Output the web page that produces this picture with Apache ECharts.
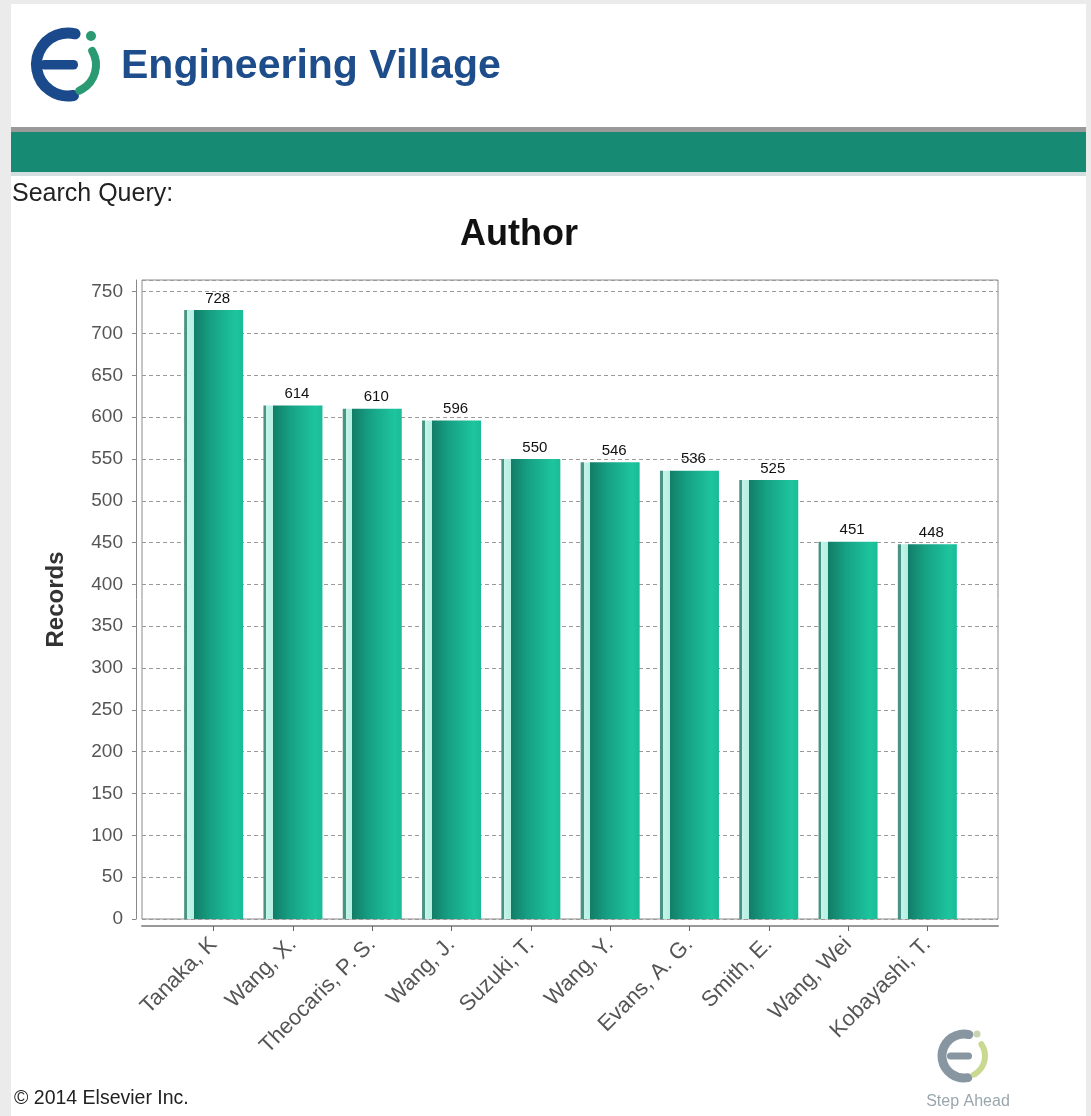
<!DOCTYPE html>
<html>
<head>
<meta charset="utf-8">
<script src="https://cdn.jsdelivr.net/npm/echarts@6/dist/echarts.min.js"></script>
<style>
html,body{margin:0;padding:0;background:#ebebeb;}
#chart{width:1091px;height:1116px;}
</style>
</head>
<body>
<div id="chart"></div>
<script>
const categories = ['Tanaka, K', 'Wang, X.', 'Theocaris, P. S.', 'Wang, J.', 'Suzuki, T.', 'Wang, Y.', 'Evans, A. G.', 'Smith, E.', 'Wang, Wei', 'Kobayashi, T.'];
const records = [728, 614, 610, 596, 550, 546, 536, 525, 451, 448];
const yMin = 0;
const yMax = 764;
const yInterval = 50;
const chartTitle = 'Author';
const yName = 'Records';

const FONT = 'Liberation Sans, Arial, sans-serif';
const deg = Math.PI / 180;

const barGradient = {
  type: 'linear', x: 0, y: 0, x2: 1, y2: 0,
  colorStops: [
    { offset: 0, color: '#4a9385' },
    { offset: 0.05, color: '#4a9385' },
    { offset: 0.05, color: '#c4f4e9' },
    { offset: 0.165, color: '#b6efe2' },
    { offset: 0.165, color: '#127d67' },
    { offset: 0.45, color: '#16a084' },
    { offset: 0.88, color: '#1dc59e' },
    { offset: 1, color: '#1abb96' }
  ]
};

const chart = echarts.init(document.getElementById('chart'), null, { renderer: 'canvas' });

const option = {
  backgroundColor: '#ebebeb',
  animation: false,
  title: {
    text: chartTitle,
    left: 514, top: 212, textAlign: 'center',
    textStyle: { fontFamily: FONT, fontSize: 36, fontWeight: 'bold', color: '#111' }
  },
  graphic: [
    { type: 'rect', z: -10, shape: { x: 11, y: 4, width: 1075, height: 1112 }, style: { fill: '#ffffff' } },
    { type: 'rect', z: -9, shape: { x: 11, y: 127, width: 1075, height: 5 }, style: { fill: '#9a9a9a' } },
    { type: 'rect', z: -9, shape: { x: 11, y: 132, width: 1075, height: 40 }, style: { fill: '#178a73' } },
    { type: 'rect', z: -9, shape: { x: 11, y: 172, width: 1075, height: 4 }, style: { fill: '#d3dfdf' } },
    // header logo
    { type: 'arc', shape: { cx: 68, cy: 64.5, r: 31.5, startAngle: 80 * deg, endAngle: 283 * deg, clockwise: true },
      style: { stroke: '#1b4a8c', lineWidth: 11, fill: null, lineCap: 'round' } },
    { type: 'rect', shape: { x: 40, y: 60, width: 38, height: 9.5, r: 4.5 }, style: { fill: '#1b4a8c' } },
    { type: 'arc', shape: { cx: 68, cy: 65, r: 28, startAngle: -30 * deg, endAngle: 66 * deg, clockwise: true },
      style: { stroke: '#2a9a72', lineWidth: 8, fill: null, lineCap: 'round' } },
    { type: 'circle', shape: { cx: 91, cy: 36, r: 5 }, style: { fill: '#2a9a72' } },
    { type: 'text', x: 121, y: 67, style: { text: 'Engineering Village', font: 'bold 41px ' + FONT, fill: '#1e4d8b', verticalAlign: 'middle' } },
    { type: 'text', x: 12, y: 194, style: { text: 'Search Query:', font: '25px ' + FONT, fill: '#222', verticalAlign: 'middle' } },
    { type: 'text', x: 14, y: 1099, style: { text: '\u00a9 2014 Elsevier Inc.', font: '19.5px ' + FONT, fill: '#222', verticalAlign: 'middle' } },
    // footer logo
    { type: 'arc', shape: { cx: 964, cy: 1056, r: 22, startAngle: 80 * deg, endAngle: 283 * deg, clockwise: true },
      style: { stroke: '#8796a0', lineWidth: 9, fill: null, lineCap: 'round' } },
    { type: 'rect', shape: { x: 947, y: 1052.5, width: 25, height: 7, r: 3.5 }, style: { fill: '#8796a0' } },
    { type: 'arc', shape: { cx: 964, cy: 1056, r: 21, startAngle: -34 * deg, endAngle: 62 * deg, clockwise: true },
      style: { stroke: '#c9d98f', lineWidth: 6, fill: null, lineCap: 'round' } },
    { type: 'circle', shape: { cx: 977, cy: 1034, r: 3.5 }, style: { fill: '#c9d3b0' } },
    { type: 'text', x: 968, y: 1102, style: { text: 'Step Ahead', font: '16px ' + FONT, fill: '#9aa6ad', align: 'center', verticalAlign: 'middle' } }
  ],
  grid: [
    { left: 174, top: 280, width: 793, height: 639 },
    { left: 142, top: 280, width: 856, height: 639, show: true, borderColor: '#8a8a8a', borderWidth: 1, backgroundColor: 'rgba(0,0,0,0)' }
  ],
  xAxis: [
    {
      gridIndex: 0, type: 'category', data: categories, position: 'bottom', offset: 7,
      axisLine: { show: false, onZero: false },
      axisTick: { show: true, alignWithLabel: true, length: 5, lineStyle: { color: '#666' } },
      axisLabel: { interval: 0, rotate: 45, margin: 15, fontFamily: FONT, fontSize: 22, color: '#555' },
      splitLine: { show: false }
    },
    {
      gridIndex: 1, type: 'value', min: 0, max: 1, position: 'bottom', offset: 7,
      axisLine: { show: true, onZero: false, lineStyle: { color: '#999', width: 2 } },
      axisTick: { show: false }, axisLabel: { show: false }, splitLine: { show: false }
    }
  ],
  yAxis: [
    { gridIndex: 0, type: 'value', min: yMin, max: yMax, show: false, splitLine: { show: false } },
    {
      gridIndex: 1, type: 'value', min: yMin, max: yMax, interval: yInterval, position: 'left', offset: 6,
      axisLine: { show: true, onZero: false, lineStyle: { color: '#888' } },
      axisTick: { show: true, length: 4, lineStyle: { color: '#888' } },
      axisLabel: { margin: 13, fontFamily: FONT, fontSize: 19, color: '#555', showMaxLabel: false },
      splitLine: { show: true, lineStyle: { color: '#9a9a9a', type: [4, 3], width: 1 } },
      name: yName, nameLocation: 'middle', nameGap: 68,
      nameTextStyle: { fontFamily: FONT, fontSize: 24, fontWeight: 'bold', color: '#333' }
    }
  ],
  series: [
    {
      type: 'bar', xAxisIndex: 0, yAxisIndex: 0,
      data: records, barWidth: 59,
      itemStyle: { color: barGradient },
      label: { show: true, position: 'top', distance: 4, offset: [4, 0], fontFamily: FONT, fontSize: 15, color: '#111' }
    }
  ]
};
chart.setOption(option);
</script>
</body>
</html>
